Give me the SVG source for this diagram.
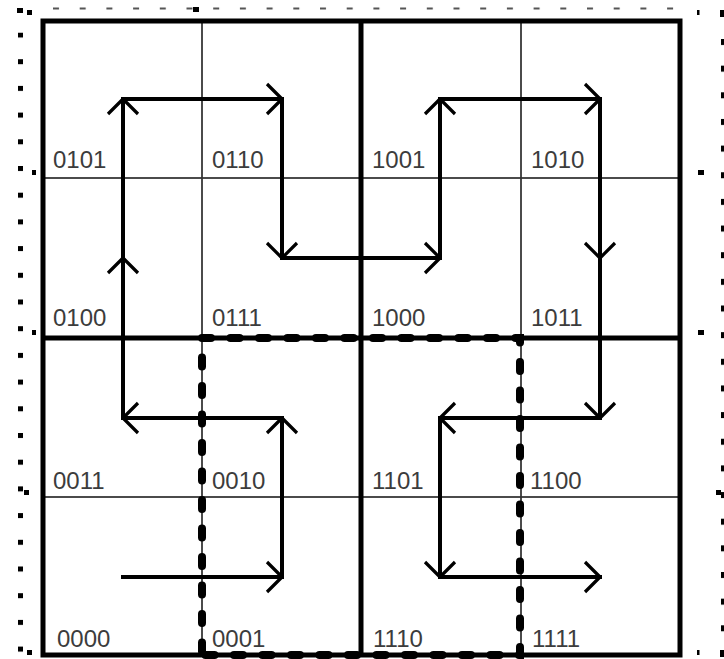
<svg xmlns="http://www.w3.org/2000/svg" width="724" height="659" viewBox="0 0 724 659">
<style>
.cell{fill:none;stroke:#333;stroke-width:1.3}
.lbl{font-family:"Liberation Sans",Arial,sans-serif;font-size:24px;fill:#3c3c3c}
.thick{stroke:#000;stroke-width:5;fill:none}
.dash{fill:none;stroke:#000;stroke-width:8;stroke-linecap:round;stroke-dasharray:9 19.5}
.seg{stroke:#000;stroke-width:4;stroke-linecap:square;fill:none;marker-end:url(#chev)}
.mark{fill:#000}
</style>
<defs>
<marker id="chev" markerUnits="userSpaceOnUse" orient="auto" refX="0" refY="0" markerWidth="40" markerHeight="40" viewBox="-20 -20 40 40" overflow="visible">
<path d="M-15,-15 L0,0 L-15,15" fill="none" stroke="#000" stroke-width="3.2" stroke-linejoin="round"/>
</marker>
<pattern id="ldots" patternUnits="userSpaceOnUse" x="18" y="32.5" width="5" height="26.7"><rect width="5" height="5" fill="#000"/></pattern>
<pattern id="rdots" patternUnits="userSpaceOnUse" x="721" y="39" width="3" height="26.65"><rect width="3" height="6" fill="#000"/></pattern>
<pattern id="tdash" patternUnits="userSpaceOnUse" x="53" y="7.5" width="26.7" height="2"><rect width="6" height="2" fill="#555"/></pattern>
</defs>
<rect width="724" height="659" fill="#fff"/>

<g id="frame-marks">
<rect x="18" y="32.5" width="5" height="622" fill="url(#ldots)"/>
<rect x="721" y="39" width="3" height="600" fill="url(#rdots)"/>
<rect x="53" y="7.5" width="622" height="2" fill="url(#tdash)"/>
<rect class="mark" x="17" y="8" width="6" height="5"/>
<rect class="mark" x="27" y="10" width="5" height="5"/>
<rect class="mark" x="193" y="7" width="6" height="5"/>
<rect class="mark" x="697" y="10" width="2.5" height="5"/>
<rect class="mark" x="720" y="10" width="4" height="7"/>
<rect class="mark" x="32" y="170" width="4" height="5"/>
<rect class="mark" x="32" y="330" width="4" height="5"/>
<rect class="mark" x="24" y="490" width="5" height="5"/>
<rect class="mark" x="27" y="650" width="5" height="5"/>
<rect class="mark" x="698" y="170" width="6" height="5"/>
<rect class="mark" x="698" y="330" width="6" height="5"/>
<rect class="mark" x="716" y="490" width="5" height="5"/>
<rect class="mark" x="697" y="650" width="2.5" height="5"/>
<rect class="mark" x="720" y="650" width="4" height="7"/>
</g>

<g id="cell-0101"><rect class="cell" x="43" y="21" width="159" height="157"/><text class="lbl" x="53" y="168">0101</text></g>
<g id="cell-0110"><rect class="cell" x="202" y="21" width="159" height="157"/><text class="lbl" x="212" y="168">0110</text></g>
<g id="cell-1001"><rect class="cell" x="361" y="21" width="160" height="157"/><text class="lbl" x="372" y="168">1001</text></g>
<g id="cell-1010"><rect class="cell" x="521" y="21" width="159" height="157"/><text class="lbl" x="531" y="168">1010</text></g>

<g id="cell-0100"><rect class="cell" x="43" y="178" width="159" height="160"/><text class="lbl" x="53" y="326">0100</text></g>
<g id="cell-0111"><rect class="cell" x="202" y="178" width="159" height="160"/><text class="lbl" x="212" y="326">0111</text></g>
<g id="cell-1000"><rect class="cell" x="361" y="178" width="160" height="160"/><text class="lbl" x="372" y="326">1000</text></g>
<g id="cell-1011"><rect class="cell" x="521" y="178" width="159" height="160"/><text class="lbl" x="531" y="326">1011</text></g>

<g id="cell-0011"><rect class="cell" x="43" y="338" width="159" height="159"/><text class="lbl" x="53" y="489">0011</text></g>
<g id="cell-0010"><rect class="cell" x="202" y="338" width="159" height="159"/><text class="lbl" x="212" y="489">0010</text></g>
<g id="cell-1101"><rect class="cell" x="361" y="338" width="160" height="159"/><text class="lbl" x="372" y="489">1101</text></g>
<g id="cell-1100"><rect class="cell" x="521" y="338" width="159" height="159"/><text class="lbl" x="530" y="489">1100</text></g>

<g id="cell-0000"><rect class="cell" x="43" y="497" width="159" height="158"/><text class="lbl" x="57" y="647">0000</text></g>
<g id="cell-0001"><rect class="cell" x="202" y="497" width="159" height="158"/><text class="lbl" x="212" y="647">0001</text></g>
<g id="cell-1110"><rect class="cell" x="361" y="497" width="160" height="158"/><text class="lbl" x="373" y="647">1110</text></g>
<g id="cell-1111"><rect class="cell" x="521" y="497" width="159" height="158"/><text class="lbl" x="532" y="647">1111</text></g>

<g id="quadrant-lines">
<rect class="thick" x="43" y="21" width="637" height="634"/>
<line class="thick" x1="361" y1="21" x2="361" y2="655"/>
<line class="thick" x1="43" y1="338" x2="680" y2="338"/>
</g>

<g id="dashed-region">
<path class="dash" d="M202,338 H520 V655 H202"/>
<path class="dash" d="M202,338 V655" stroke-dashoffset="9"/>
</g>

<g id="connectors">
<line class="seg" x1="123" y1="577" x2="282" y2="577"/>
<line class="seg" x1="282" y1="577" x2="282" y2="418"/>
<line class="seg" x1="282" y1="418" x2="123" y2="418"/>
<line class="seg" x1="123" y1="418" x2="123" y2="258"/>
<line class="seg" x1="123" y1="258" x2="123" y2="99"/>
<line class="seg" x1="123" y1="99" x2="282" y2="99"/>
<line class="seg" x1="282" y1="99" x2="282" y2="258"/>
<line class="seg" x1="282" y1="258" x2="440" y2="258"/>
<line class="seg" x1="440" y1="258" x2="440" y2="99"/>
<line class="seg" x1="440" y1="99" x2="600" y2="99"/>
<line class="seg" x1="600" y1="99" x2="600" y2="258"/>
<line class="seg" x1="600" y1="258" x2="600" y2="418"/>
<line class="seg" x1="600" y1="418" x2="440" y2="418"/>
<line class="seg" x1="440" y1="418" x2="440" y2="577"/>
<line class="seg" x1="440" y1="577" x2="600" y2="577"/>
</g>
</svg>
